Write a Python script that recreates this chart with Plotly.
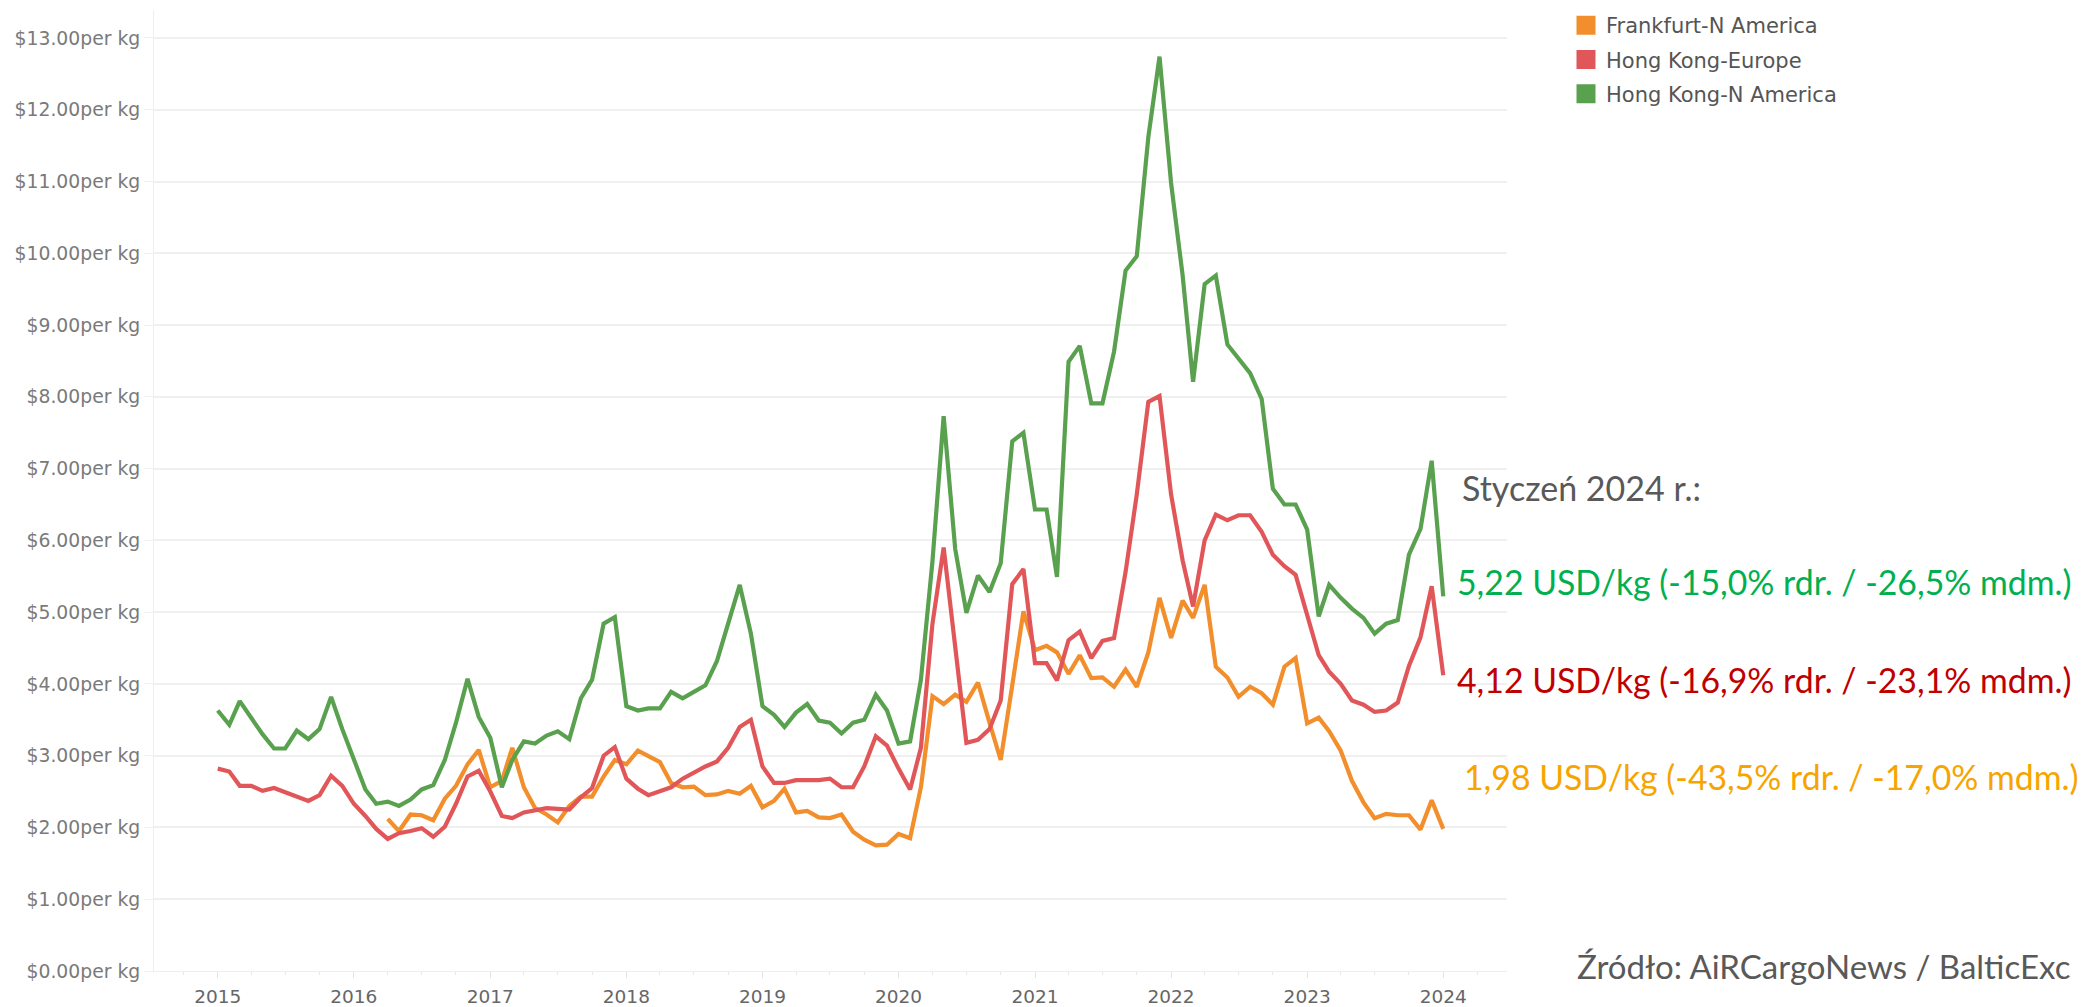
import pandas as pd
import plotly.graph_objects as go

# ---- data -------------------------------------------------------------
months = pd.date_range("2015-01-01", "2024-01-01", freq="MS")

hk_namerica = [
    3.63, 3.43, 3.76, 3.52, 3.30, 3.10, 3.10, 3.35, 3.23, 3.37, 3.82, 3.37,
    2.94, 2.53, 2.33, 2.36, 2.30, 2.39, 2.53, 2.59, 2.94, 3.46, 4.07, 3.54,
    3.25, 2.56, 2.94, 3.20, 3.17, 3.28, 3.34, 3.23, 3.80, 4.06, 4.84, 4.93,
    3.69, 3.63, 3.66, 3.66, 3.89, 3.80, 3.89, 3.98, 4.32, 4.84, 5.38, 4.70,
    3.69, 3.57, 3.40, 3.60, 3.72, 3.49, 3.46, 3.31, 3.46, 3.50, 3.85, 3.63,
    3.17, 3.20, 4.06, 5.71, 7.73, 5.88, 4.99, 5.51, 5.28, 5.68, 7.38, 7.50,
    6.43, 6.43, 5.49, 8.49, 8.71, 7.91, 7.91, 8.63, 9.76, 9.96, 11.62, 12.74,
    10.98, 9.69, 8.21, 9.57, 9.69, 8.73, 8.53, 8.33, 7.97, 6.72, 6.50, 6.50,
    6.15, 4.94, 5.38, 5.20, 5.05, 4.92, 4.70, 4.84, 4.89, 5.80, 6.16, 7.11,
    5.22,
]

hk_europe = [
    2.82, 2.78, 2.58, 2.58, 2.51, 2.55, 2.49, 2.43, 2.37, 2.45, 2.72, 2.58,
    2.33, 2.16, 1.98, 1.84, 1.92, 1.95, 1.99, 1.87, 2.01, 2.33, 2.71, 2.79,
    2.50, 2.16, 2.13, 2.21, 2.24, 2.27, 2.26, 2.25, 2.42, 2.55, 3.00, 3.12,
    2.68, 2.54, 2.45, 2.50, 2.56, 2.68, 2.77, 2.85, 2.92, 3.11, 3.40, 3.50,
    2.85, 2.62, 2.62, 2.66, 2.66, 2.66, 2.68, 2.56, 2.56, 2.85, 3.27, 3.14,
    2.82, 2.53, 3.11, 4.84, 5.90, 4.55, 3.18, 3.22, 3.37, 3.77, 5.39, 5.60,
    4.29, 4.29, 4.05, 4.61, 4.73, 4.36, 4.60, 4.64, 5.56, 6.64, 7.93, 8.01,
    6.64, 5.72, 5.08, 6.00, 6.36, 6.28, 6.35, 6.35, 6.12, 5.80, 5.64, 5.52,
    4.96, 4.40, 4.17, 4.00, 3.77, 3.71, 3.61, 3.63, 3.74, 4.25, 4.65, 5.36,
    4.12,
]

frankfurt_namerica = [
    None, None, None, None, None, None, None, None, None, None, None, None,
    None, None, None, 2.12, 1.95, 2.18, 2.17, 2.10, 2.40, 2.58, 2.88, 3.08,
    2.56, 2.65, 3.11, 2.56, 2.27, 2.18, 2.07, 2.30, 2.43, 2.43, 2.71, 2.94,
    2.88, 3.07, 3.00, 2.91, 2.62, 2.56, 2.57, 2.45, 2.46, 2.51, 2.47, 2.58,
    2.28, 2.37, 2.54, 2.21, 2.23, 2.14, 2.13, 2.18, 1.94, 1.83, 1.75, 1.76,
    1.91, 1.85, 2.56, 3.83, 3.72, 3.85, 3.75, 4.02, 3.46, 2.94, 3.98, 5.01,
    4.47, 4.53, 4.44, 4.14, 4.40, 4.08, 4.09, 3.96, 4.20, 3.96, 4.44, 5.20,
    4.64, 5.16, 4.92, 5.38, 4.24, 4.09, 3.82, 3.96, 3.87, 3.71, 4.24, 4.36,
    3.45, 3.53, 3.34, 3.07, 2.65, 2.35, 2.13, 2.19, 2.17, 2.17, 1.97, 2.38,
    1.98,
]

series_names = ["Frankfurt-N America", "Hong Kong-Europe", "Hong Kong-N America"]
series_values = [frankfurt_namerica, hk_europe, hk_namerica]
series_colors = ["#F28E2B", "#E15759", "#59A14F"]

year_ticks = [str(y) for y in range(2015, 2025)]

note_header = "Styczeń 2024 r.:"
note_lines = [
    "5,22 USD/kg (-15,0% rdr. / -26,5% mdm.)",
    "4,12 USD/kg (-16,9% rdr. / -23,1% mdm.)",
    "1,98 USD/kg (-43,5% rdr. / -17,0% mdm.)",
]
note_colors = ["#00B050", "#C00000", "#F7A400"]
source_text = "Źródło: AiRCargoNews / BalticExc"

# ---- layout geometry (pixels) ------------------------------------------
W, H = 2083, 1007
L, R, T, B = 154, 1507, 10, 971
PW, PH = R - L, B - T


def px(x):
    return (x - L) / PW


def py(y):
    return (B - y) / PH


fig = go.Figure()

for name, vals, col in zip(series_names, series_values, series_colors):
    fig.add_trace(go.Scatter(
        x=months, y=vals, mode="lines", name=name,
        line=dict(color=col, width=4.2), showlegend=False,
        legendgroup=name, connectgaps=False,
    ))

for name, col in zip(series_names, series_colors):
    fig.add_trace(go.Scatter(
        x=[None], y=[None], mode="markers", name=name, legendgroup=name,
        marker=dict(symbol="square", size=16, color=col,
                    line=dict(color=col, width=3)),
        showlegend=True,
    ))

tick_family = "DejaVu Sans"

fig.update_layout(
    width=W, height=H,
    margin=dict(l=L, r=W - R, t=T, b=H - B, pad=0, autoexpand=False),
    paper_bgcolor="white", plot_bgcolor="white",
    showlegend=True,
    legend=dict(
        x=px(1566), y=py(5), xanchor="left", yanchor="top",
        font=dict(family=tick_family, size=21, color="#555555"),
        bgcolor="rgba(0,0,0,0)", tracegroupgap=4,
        traceorder="grouped", itemclick=False,
    ),
    xaxis=dict(
        type="date",
        range=["2014-07-14", "2024-06-20"],
        tickvals=[pd.Timestamp(f"{y}-01-01") for y in year_ticks],
        ticktext=year_ticks,
        showgrid=False, zeroline=False, automargin=False,
        showline=True, linecolor="#eeeeee", linewidth=1,
        ticks="outside", ticklen=6, tickcolor="#e2e2e2",
        minor=dict(ticks="outside", ticklen=3, tickcolor="#e8e8e8",
                   dtick="M3", tick0="2015-01-01", showgrid=False),
        tickfont=dict(family=tick_family, size=18.5, color="#666666"),
        ticklabelstandoff=3,
    ),
    yaxis=dict(
        range=[0, 13.39],
        dtick=1, tick0=0,
        tickformat="$.2f", ticksuffix="per kg",
        showgrid=True, gridcolor="#f0f0f0", gridwidth=1.5,
        zeroline=False, automargin=False,
        showline=True, linecolor="#eeeeee", linewidth=1,
        ticks="outside", ticklen=9, tickcolor="#f0f0f0",
        tickfont=dict(family=tick_family, size=18.8, color="#7a7a7a"),
    ),
    font=dict(family=tick_family),
)

ann_font = "Lato"
fig.add_annotation(
    xref="paper", yref="paper", x=px(1460), y=py(487),
    xanchor="left", yanchor="middle", showarrow=False,
    text=note_header, font=dict(family=ann_font, size=34, color="#595959"),
)
for txt, col, xx, yy in zip(note_lines, note_colors, [1455, 1455, 1462], [582, 680, 777]):
    fig.add_annotation(
        xref="paper", yref="paper", x=px(xx), y=py(yy),
        xanchor="left", yanchor="middle", showarrow=False,
        text=txt, font=dict(family=ann_font, size=33.8, color=col),
    )
fig.add_annotation(
    xref="paper", yref="paper", x=px(1575), y=py(966),
    xanchor="left", yanchor="middle", showarrow=False,
    text=source_text, font=dict(family=ann_font, size=33, color="#595959"),
)

fig.write_html(
    "out.html",
    config={"displayModeBar": False},
    post_script="document.body.style.margin='0px';document.body.style.padding='0px';",
)
